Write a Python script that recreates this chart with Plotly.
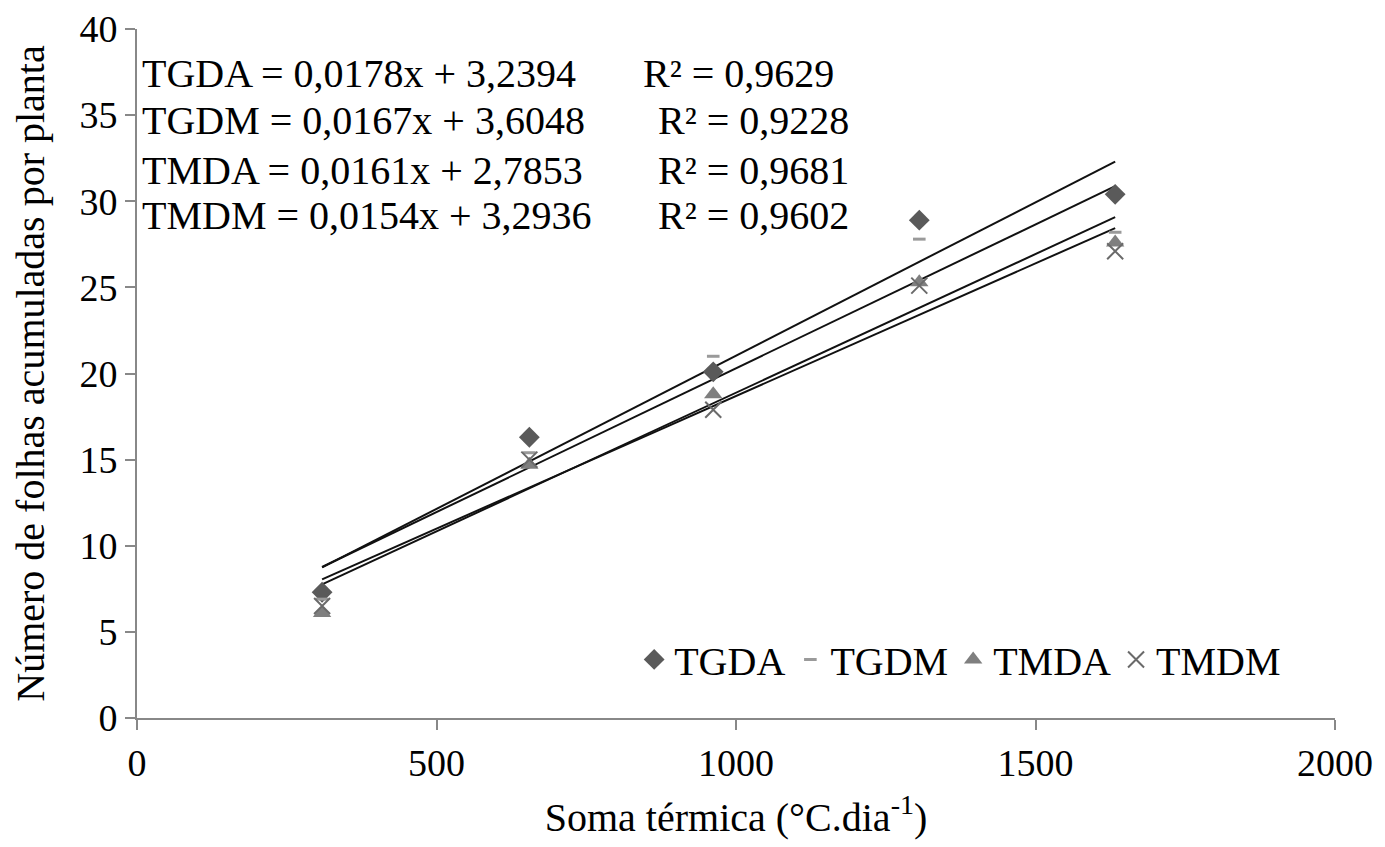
import plotly.graph_objects as go

soma_termica = [309, 655, 962, 1306, 1633]

tgda = [7.3, 16.3, 20.1, 28.9, 30.4]
tgdm = [6.9, 15.4, 21.0, 27.8, 28.2]
tmda = [6.1, 14.7, 18.8, 25.3, 27.6]
tmdm = [6.5, 15.0, 17.9, 25.1, 27.1]

series_names = ["TGDA", "TGDM", "TMDA", "TMDM"]
slopes = [0.0178, 0.0167, 0.0161, 0.0154]
intercepts = [3.2394, 3.6048, 2.7853, 3.2936]
r2_values = ["0,9629", "0,9228", "0,9681", "0,9602"]
equation_texts = [
    "TGDA = 0,0178x + 3,2394",
    "TGDM = 0,0167x + 3,6048",
    "TMDA = 0,0161x + 2,7853",
    "TMDM = 0,0154x + 3,2936",
]

FONT = "Liberation Serif"
FS = 40
TFS = 38

fig = go.Figure()

# trend lines
xmin, xmax = min(soma_termica), max(soma_termica)
for s, b in zip(slopes, intercepts):
    fig.add_trace(go.Scatter(
        x=[xmin, xmax], y=[s * xmin + b, s * xmax + b],
        mode="lines", line=dict(color="#111111", width=2),
        showlegend=False, hoverinfo="skip"))

marker_styles = [
    dict(symbol="diamond", size=16, color="#5a5a5a"),
    dict(symbol="line-ew", size=9, color="#9a9a9a", line=dict(width=3, color="#9a9a9a")),
    dict(symbol="triangle-up", size=16, color="#7f7f7f"),
    dict(symbol="x-thin-open", size=16, color="#6a6a6a", line=dict(width=2, color="#6a6a6a")),
]
for name, ys, ms in zip(series_names, [tgda, tgdm, tmda, tmdm], marker_styles):
    fig.add_trace(go.Scatter(x=soma_termica, y=ys, mode="markers", name=name,
                             marker=ms))

eq_y = [37.4, 34.7, 31.8, 29.2]
r2_x = [841, 866, 866, 866]
for txt, y, r2, rx in zip(equation_texts, eq_y, r2_values, r2_x):
    fig.add_annotation(x=5, y=y, xref="x", yref="y", text=txt, showarrow=False,
                       xanchor="left", yanchor="middle",
                       font=dict(family=FONT, size=FS, color="black"))
    fig.add_annotation(x=rx, y=y, xref="x", yref="y", text="R² = " + r2, showarrow=False,
                       xanchor="left", yanchor="middle",
                       font=dict(family=FONT, size=FS, color="black"))

fig.update_layout(
    width=1385, height=847,
    margin=dict(l=129, r=58, t=21, b=137, autoexpand=False),
    paper_bgcolor="white", plot_bgcolor="white",
    font=dict(family=FONT, size=FS, color="black"),
    legend=dict(orientation="h", x=0.415, y=0.085, xanchor="left", yanchor="middle",
                bgcolor="rgba(0,0,0,0)", font=dict(family=FONT, size=FS),
                itemwidth=30, tracegroupgap=0),
    xaxis=dict(range=[0, 2000], tickvals=[0, 500, 1000, 1500, 2000],
               showgrid=False, zeroline=False, showline=True, linecolor="#888888",
               linewidth=2, ticks="outside", ticklen=10, tickcolor="#888888", tickwidth=2,
               tickfont=dict(family=FONT, size=TFS), automargin=False,
               ticklabeloverflow="allow",
               title=dict(text="Soma térmica (°C.dia<sup>-1</sup>)", standoff=20,
                          font=dict(family=FONT, size=FS))),
    yaxis=dict(range=[0, 40], tickvals=[0, 5, 10, 15, 20, 25, 30, 35, 40],
               showgrid=False, zeroline=False, showline=True, linecolor="#888888",
               linewidth=2, ticks="outside", ticklen=10, tickcolor="#888888", tickwidth=2,
               tickfont=dict(family=FONT, size=TFS), automargin=False,
               ticklabeloverflow="allow",
               title=dict(text="Número de folhas acumuladas por planta", standoff=24,
                          font=dict(family=FONT, size=FS))),
)

fig.write_html("out.html")
